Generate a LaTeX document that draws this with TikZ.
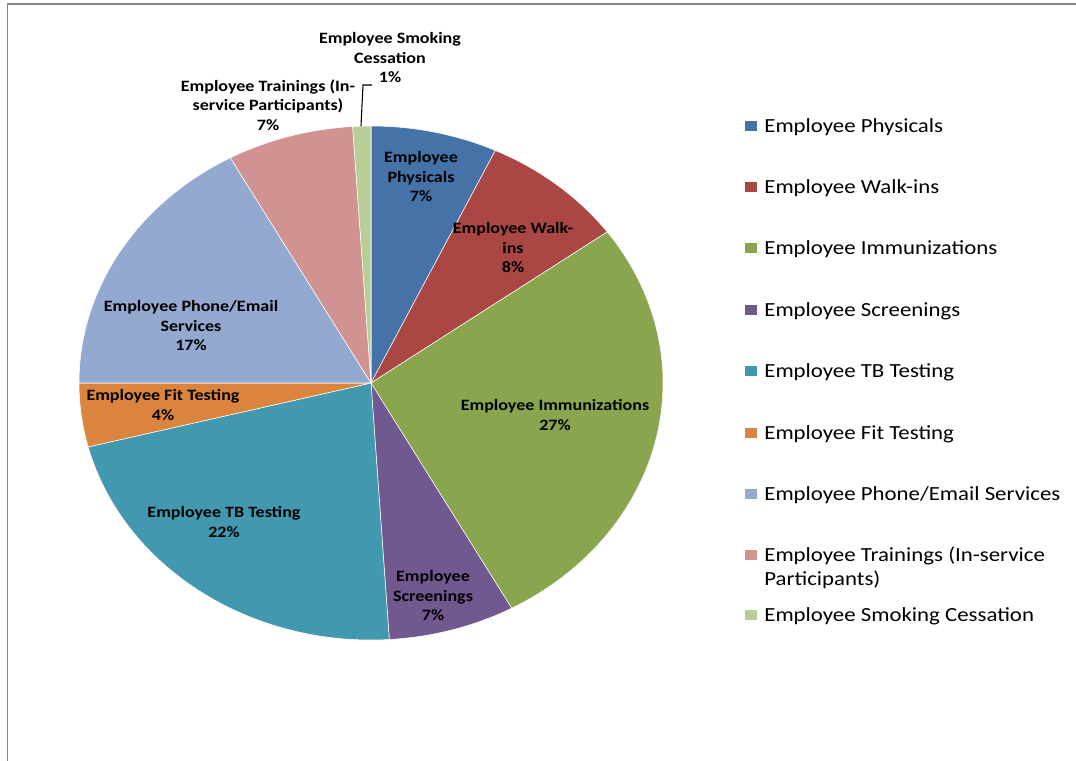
\documentclass[tikz,border=0pt]{standalone}
\usepackage{fontspec}
\setmainfont{Carlito}[FakeStretch=1.14]
\definecolor{phys}{HTML}{4572A7}
\definecolor{walk}{HTML}{AA4643}
\definecolor{immu}{HTML}{89A54E}
\definecolor{scr}{HTML}{71588F}
\definecolor{tb}{HTML}{4198AF}
\definecolor{fit}{HTML}{DB843D}
\definecolor{phone}{HTML}{93A9CF}
\definecolor{train}{HTML}{D19392}
\definecolor{smoke}{HTML}{B9CD96}
\tikzstyle{frame}=[draw=black!47,line width=1.1pt]
\tikzstyle{slice}=[draw=white,line width=0.3pt]
\tikzstyle{lbl}=[font=\fontsize{9}{11.1}\selectfont\bfseries,align=center,inner sep=0]
\tikzstyle{key}=[shape=rectangle,minimum width=0.24cm,minimum height=0.21cm,inner sep=0]
\tikzstyle{keytext}=[font=\fontsize{11.4}{13.7}\selectfont,anchor=west,align=left,inner sep=0]
\tikzstyle{leader}=[line width=0.6pt,black]

\begin{document}
\begin{tikzpicture}[x=0.02cm,y=0.02cm]
\useasboundingbox (0,0) rectangle (1076,-761);
\draw[frame] (7.5,-761) -- (7.5,-4) -- (1076,-4);

\coordinate (c) at (371,-383);
\foreach \a/\b/\col in {0/7/phys,7/15/walk,15/42/immu,42/49/scr,49/71/tb,71/75/fit,75/92/phone,92/99/train,99/100/smoke}{
\filldraw[slice,fill=\col] (c) -- ++({90-3.6*\a}:292 and 257) arc[start angle={90-3.6*\a}, end angle={90-3.6*\b}, x radius=292, y radius=257] -- cycle;
}

\node[lbl] (physlbl) at (421,-177) {Employee\\Physicals\\7\%};
\node[lbl] (walklbl) at (513,-248) {Employee Walk-\\ins\\8\%};
\node[lbl] (immulbl) at (555,-415) {Employee Immunizations\\27\%};
\node[lbl] (scrlbl) at (433,-596) {Employee\\Screenings\\7\%};
\node[lbl] (tblbl) at (224,-522) {Employee TB Testing\\22\%};
\node[lbl] (fitlbl) at (163,-405) {Employee Fit Testing\\4\%};
\node[lbl] (phonelbl) at (191,-326) {Employee Phone/Email\\Services\\17\%};
\node[lbl] (trainlbl) at (268,-105) {Employee Trainings (In-\\service Participants)\\7\%};
\node[lbl] (smokelbl) at (390,-58) {Employee Smoking\\Cessation\\1\%};

\coordinate (smkedge) at (361,-126);
\coordinate (smkbend) at (363,-85);
\coordinate (smkend) at (372,-85);
\draw[leader] (smkedge) -- (smkbend) -- (smkend);

\foreach \y/\ty/\col/\txt in {126/127/phys/Employee Physicals,187/188/walk/Employee Walk-ins,248/249/immu/Employee Immunizations,310/311/scr/Employee Screenings,371/372/tb/Employee TB Testing,433/434/fit/Employee Fit Testing,494/495/phone/{Employee Phone/Email Services},555/567.5/train/{Employee Trainings (In-service\\Participants)},615/616/smoke/Employee Smoking Cessation}{
\node[key,fill=\col] (key\col) at (751,-\y) {};
\node[keytext] (txt\col) at (764,-\ty) {\txt};
}
\end{tikzpicture}
\end{document}
